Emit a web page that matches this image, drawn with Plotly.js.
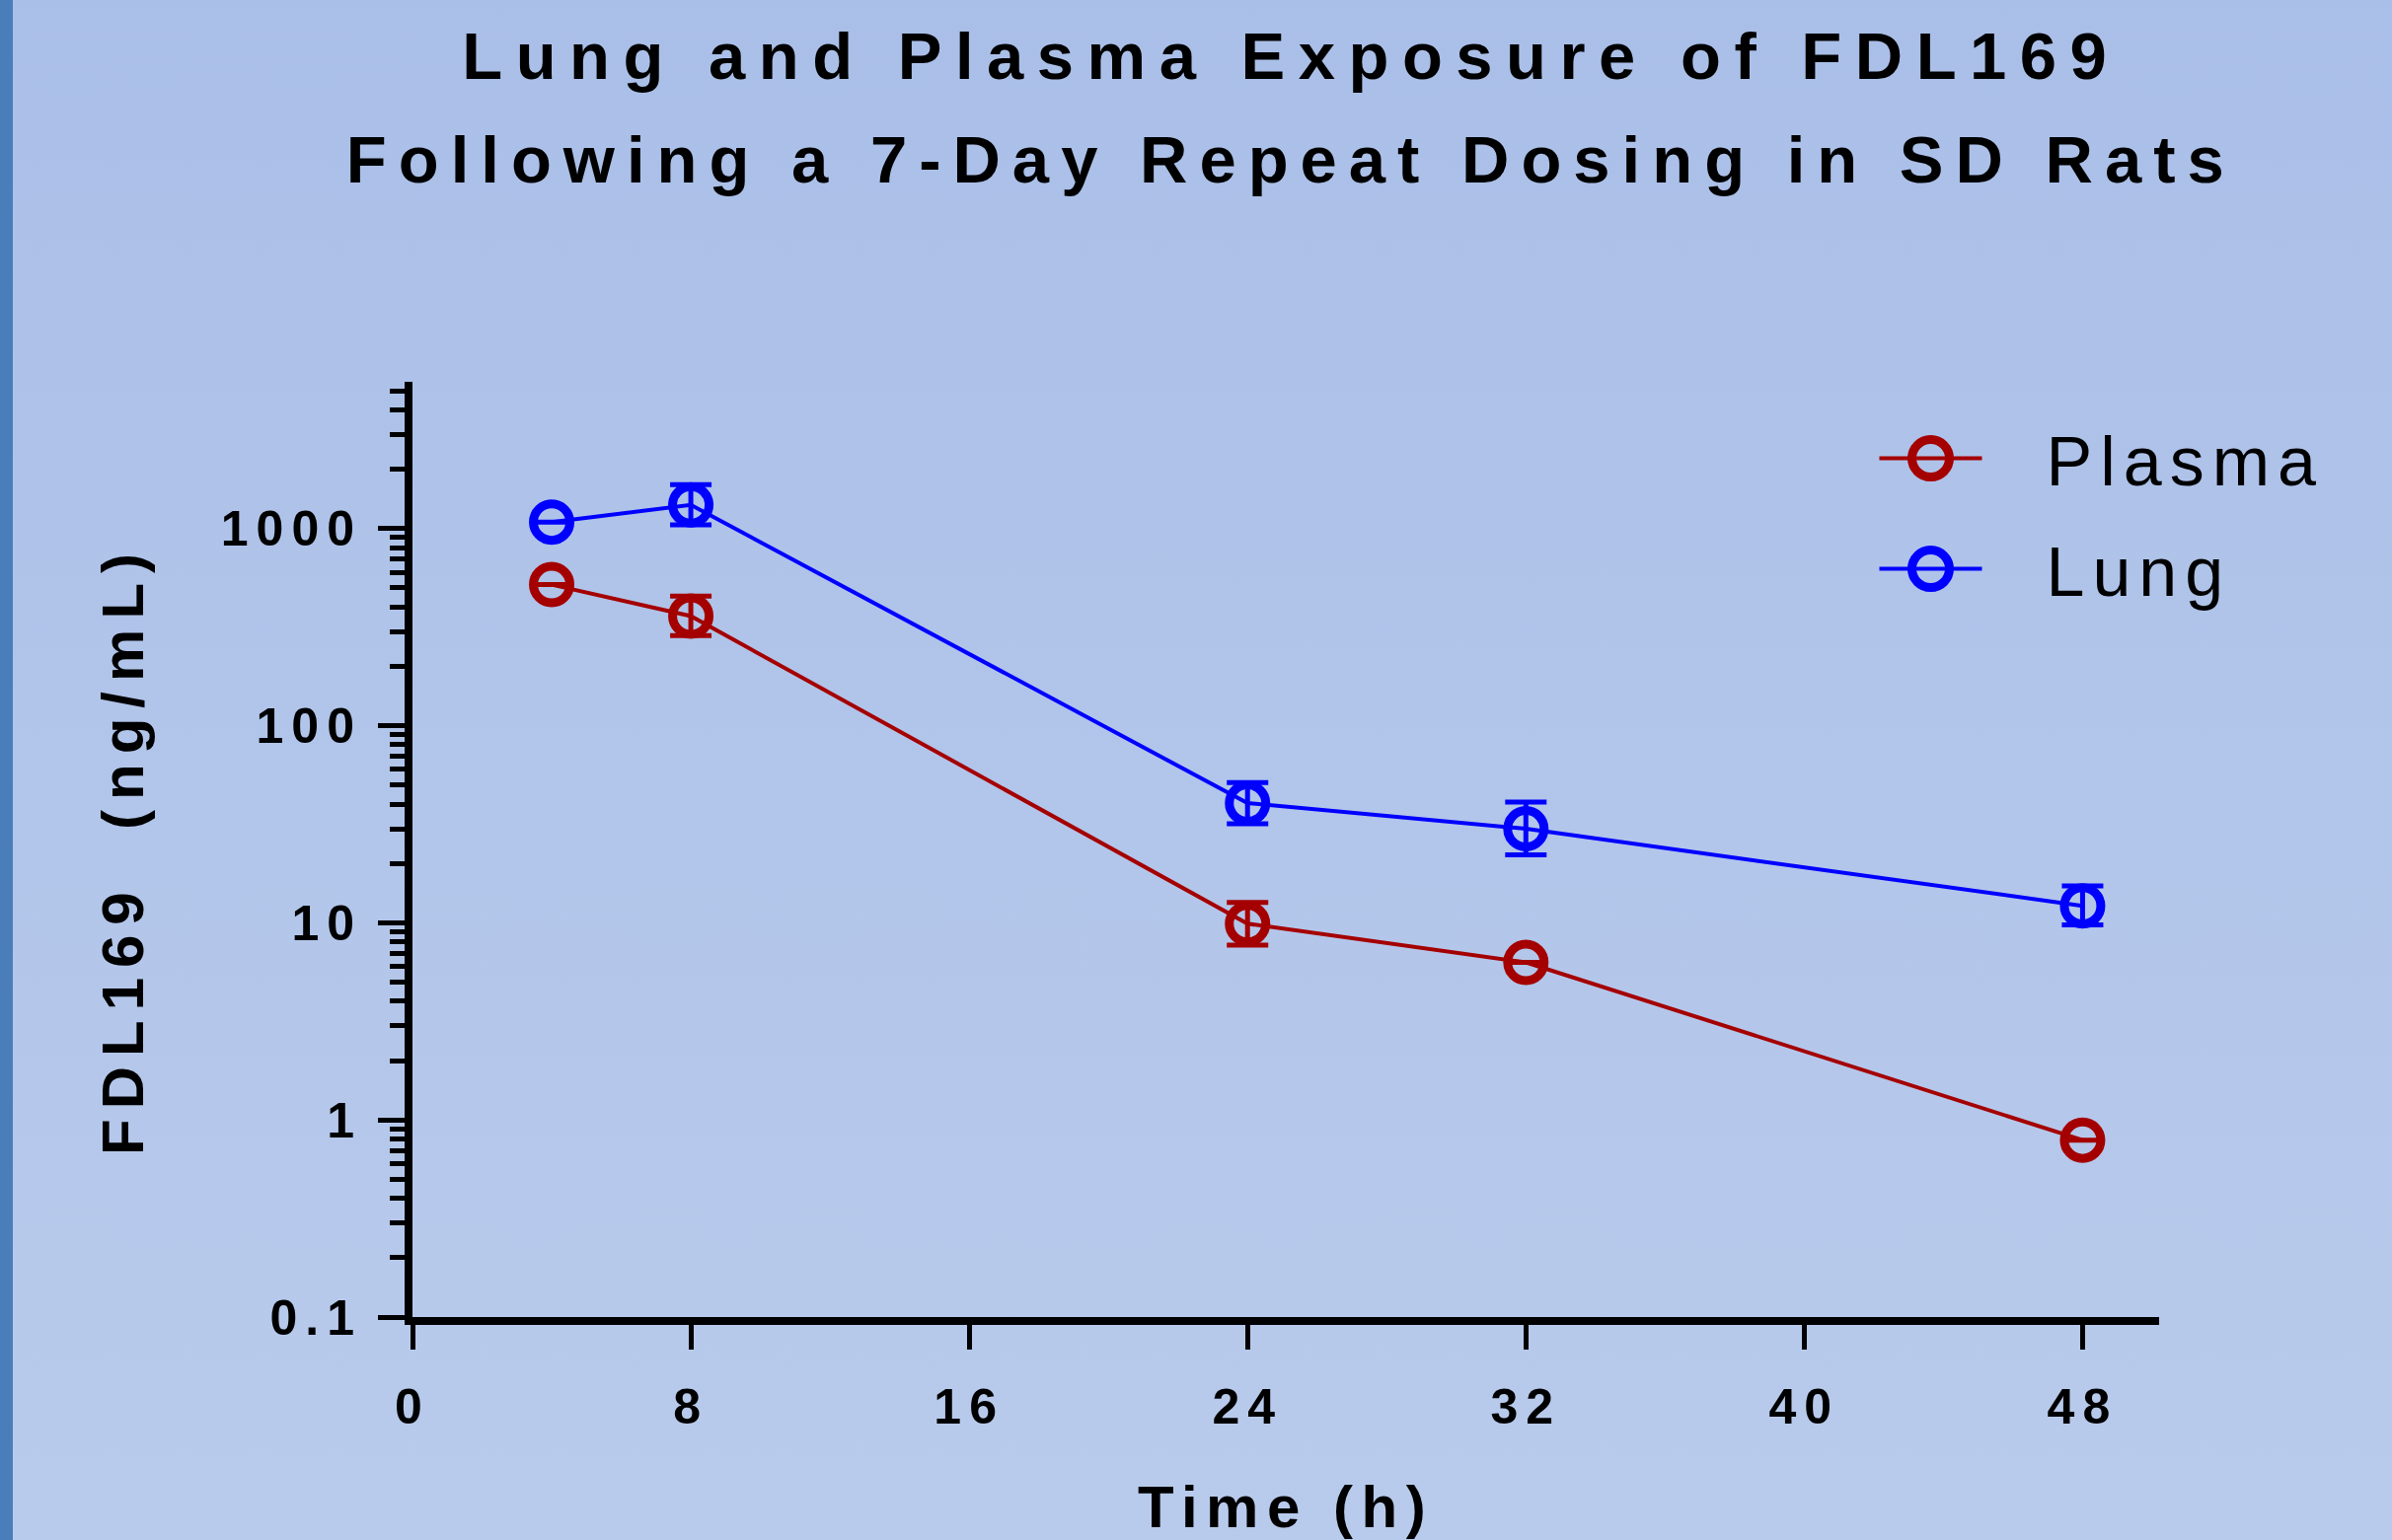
<!DOCTYPE html>
<html>
<head>
<meta charset="utf-8">
<script src="https://cdn.plot.ly/plotly-3.0.1.min.js"></script>
<style>
  html, body { margin: 0; padding: 0; }
  body {
    width: 2424px; height: 1561px; overflow: hidden;
    background:
      linear-gradient(to right, #4a7ebb 0px, #4a7ebb 13px, rgba(0,0,0,0) 13px),
      linear-gradient(to bottom, #aabfe8 0%, #b9cbec 100%);
  }
  #chart { width: 2424px; height: 1561px; }
  .gtitle { letter-spacing: 12px; }
  .xtitle { letter-spacing: 8.5px; }
  .ytitle { letter-spacing: 10px; }
  .xtick text, .ytick text { letter-spacing: 8px; }
  .legendtext { letter-spacing: 8px; }
  .legend .scrollbox { clip-path: none !important; }
</style>
</head>
<body>
<div id="chart"></div>
<script>
// ---- data ----
const timeHours = [4, 8, 24, 32, 48];

const plasmaMean = [520, 360, 9.9, 6.3, 0.79];
const plasmaErrPlus = [null, 94, 2.8, null, null];
const plasmaErrMinus = [null, 73, 2.2, null, null];

const lungMean = [1080, 1320, 40.5, 30, 12.2];
const lungErrPlus = [null, 350, 11, 11, 3.2];
const lungErrMinus = [null, 275, 8.7, 7.9, 2.45];

const seriesNames = ['Plasma', 'Lung'];
const xTickVals = [0, 8, 16, 24, 32, 40, 48];

const titleLine1 = 'Lung and Plasma Exposure of FDL169';
const titleLine2 = 'Following a 7-Day Repeat Dosing in SD Rats';
const xTitle = 'Time (h)';
const yTitle = 'FDL169 \u00a0(ng/mL)';

const plasmaColor = '#a50000';
const lungColor = '#0000ff';

function makeTrace(name, y, ep, em, color) {
  return {
    type: 'scatter', mode: 'lines+markers', name: name, legendgroup: name,
    x: timeHours, y: y,
    line: { color: color, width: 4 },
    marker: { symbol: 'circle-open', size: 37, color: color, line: { color: color, width: 9 } },
    error_y: { type: 'data', symmetric: false, array: ep, arrayminus: em,
               color: color, thickness: 5, width: 21 },
    cliponaxis: false
  };
}

const data = [
  makeTrace(seriesNames[0], plasmaMean, plasmaErrPlus, plasmaErrMinus, plasmaColor),
  makeTrace(seriesNames[1], lungMean, lungErrPlus, lungErrMinus, lungColor)
];

const fontFam = '"Liberation Sans", Arial, sans-serif';

const layout = {
  width: 2424, height: 1561,
  paper_bgcolor: 'rgba(0,0,0,0)', plot_bgcolor: 'rgba(0,0,0,0)',
  margin: { l: 418, r: 236, t: 387, b: 226 },
  font: { family: fontFam, color: '#000' },
  title: {
    text: '<span style="letter-spacing:13.5px">' + titleLine1 + '</span><br>' + titleLine2,
    font: { family: fontFam, size: 67, weight: 'bold', color: '#000' },
    xref: 'paper', x: 0.503, xanchor: 'center',
    yref: 'container', y: 0.949, yanchor: 'top'
  },
  xaxis: {
    range: [0, 50.2], tickmode: 'array', tickvals: xTickVals,
    showgrid: false, zeroline: false,
    showline: true, linecolor: '#000', linewidth: 8,
    ticks: 'outside', ticklen: 25, tickwidth: 5, tickcolor: '#000',
    ticklabelstandoff: 15,
    tickfont: { family: fontFam, size: 50, weight: 'bold', color: '#000' },
    title: { text: xTitle, standoff: 70, font: { family: fontFam, size: 60, weight: 'bold', color: '#000' } }
  },
  yaxis: {
    type: 'log', range: [-1, 3.745],
    tickmode: 'linear', tick0: 0, dtick: 1, exponentformat: 'none',
    showgrid: false, zeroline: false,
    showline: true, linecolor: '#000', linewidth: 8,
    ticks: 'outside', ticklen: 27, tickwidth: 5, tickcolor: '#000',
    ticklabelstandoff: 6,
    minor: { dtick: 'D1', ticks: 'outside', ticklen: 15, tickwidth: 5, tickcolor: '#000', showgrid: false },
    tickfont: { family: fontFam, size: 50, weight: 'bold', color: '#000' },
    title: { text: yTitle, standoff: 62, font: { family: fontFam, size: 60, weight: 'bold', color: '#000' } }
  },
  showlegend: true,
  legend: {
    x: 0.837, xanchor: 'left', y: 0.973, yanchor: 'top',
    bgcolor: 'rgba(0,0,0,0)', borderwidth: 0,
    font: { family: fontFam, size: 70, color: '#000' },
    itemwidth: 104, tracegroupgap: 18, traceorder: 'grouped'
  }
};

Plotly.newPlot('chart', data, layout, { displayModeBar: false, staticPlot: true }).then(function () {
  // title line spacing as in the reference
  document.querySelectorAll('#chart .gtitle tspan.line').forEach(function (t, i) {
    if (i > 0) t.setAttribute('dy', '105');
  });
  // enlarge legend symbols to match the plotted markers
  document.querySelectorAll('#chart .legend .legendpoints path.scatterpts').forEach(function (p) {
    const d = p.getBBox().width || 16;
    const k = 38 / d;
    p.setAttribute('transform', (p.getAttribute('transform') || '') + ' scale(' + k + ')');
    p.style.strokeWidth = (9 / k) + 'px';
  });
  // gap between legend symbol and label
  document.querySelectorAll('#chart .legend text.legendtext').forEach(function (t) {
    const x = parseFloat(t.getAttribute('x') || '0');
    t.setAttribute('x', x + 60);
  });
  document.querySelectorAll('#chart .legend .scrollbox').forEach(function (g) {
    g.removeAttribute('clip-path');
  });
});
</script>
</body>
</html>
